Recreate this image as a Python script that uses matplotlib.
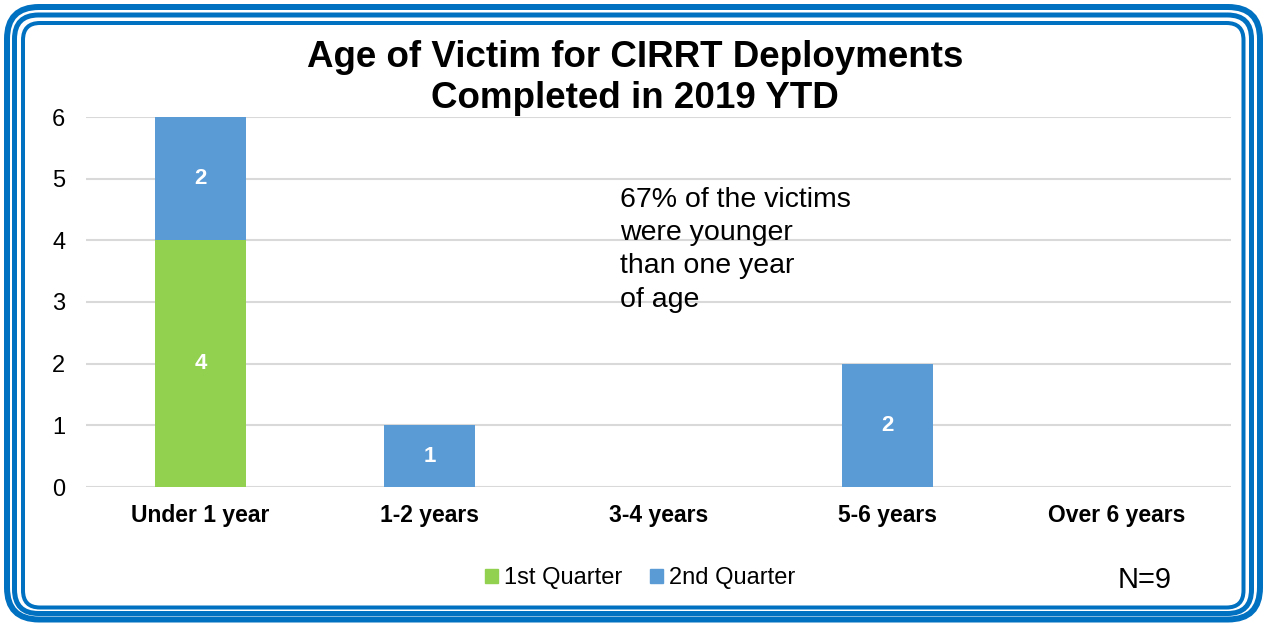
import matplotlib.pyplot as plt
from matplotlib.patches import FancyBboxPatch, Patch

plt.rcParams['font.family'] = ['Liberation Sans', 'DejaVu Sans']

# data
categories = ["Under 1 year", "1-2 years", "3-4 years", "5-6 years", "Over 6 years"]
q1 = [4, 0, 0, 0, 0]
q2 = [2, 1, 0, 2, 0]
series_names = ["1st Quarter", "2nd Quarter"]
colors = ["#92D050", "#5B9BD5"]

W, H = 1266, 624
fig = plt.figure(figsize=(W / 100, H / 100), dpi=100)

# plot area in pixels
left, right, top, bottom = 86, 1231, 117, 487
ax = fig.add_axes([left / W, 1 - bottom / H, (right - left) / W, (bottom - top) / H])

x = list(range(len(categories)))
ax.bar(x, q1, width=0.4, color=colors[0], zorder=3)
ax.bar(x, q2, width=0.4, bottom=q1, color=colors[1], zorder=3)

# data labels (skip zeros)
for i in x:
    if q1[i] > 0:
        ax.text(i, q1[i] / 2, str(q1[i]), ha="center", va="center",
                color="white", fontsize=16, fontweight="bold", zorder=4)
    if q2[i] > 0:
        ax.text(i, q1[i] + q2[i] / 2, str(q2[i]), ha="center", va="center",
                color="white", fontsize=16, fontweight="bold", zorder=4)

ax.set_xlim(-0.5, len(categories) - 0.5)
ax.set_ylim(0, 6)
ax.set_yticks(range(0, 7))
ax.yaxis.grid(True, color="#D9D9D9", linewidth=1.5, zorder=0)
ax.set_axisbelow(True)
for s in ax.spines.values():
    s.set_visible(False)
ax.tick_params(axis="both", length=0)
ax.tick_params(axis="y", labelsize=17, pad=15)
ax.tick_params(axis="x", pad=12)
ax.set_xticks(x)
ax.set_xticklabels(categories, fontsize=16.5, fontweight="bold")

fig.text(635 / W, 1 - 78 / H, "Age of Victim for CIRRT Deployments\nCompleted in 2019 YTD",
         ha="center", va="center", fontsize=26.5, fontweight="bold", linespacing=1.22)

fig.text(620 / W, 1 - 187 / H, "67% of the victims\nwere younger\nthan one year\nof age",
         ha="left", va="top", fontsize=20.5, linespacing=1.36)

fig.text(1145 / W, 1 - 580 / H, "N=9", ha="center", va="center", fontsize=21)

handles = [Patch(color=c) for c in colors]
fig.legend(handles, series_names, loc="center", bbox_to_anchor=(640 / W, 1 - 578 / H),
           ncol=2, frameon=False, fontsize=17, handlelength=0.55, handleheight=0.55,
           handletextpad=0.25, columnspacing=1.2)

# triple rounded border, in pixels (left, right, top, bottom offsets, width)
borders = [
    (7, 6, 7, 4.5, 6, 32),
    (14.5, 14.5, 15, 10.5, 5, 24),
    (23, 22.5, 23, 16.5, 4, 17),
]
for l, r, t, b, lw, rad in borders:
    box = FancyBboxPatch((l / 100, b / 100), (W - l - r) / 100, (H - t - b) / 100,
                         boxstyle="round,pad=0,rounding_size=%f" % (rad / 100),
                         transform=fig.dpi_scale_trans, fill=False,
                         edgecolor="#0070C0", linewidth=lw * 0.72)
    fig.patches.append(box)

fig.savefig("out.png", dpi=100)
